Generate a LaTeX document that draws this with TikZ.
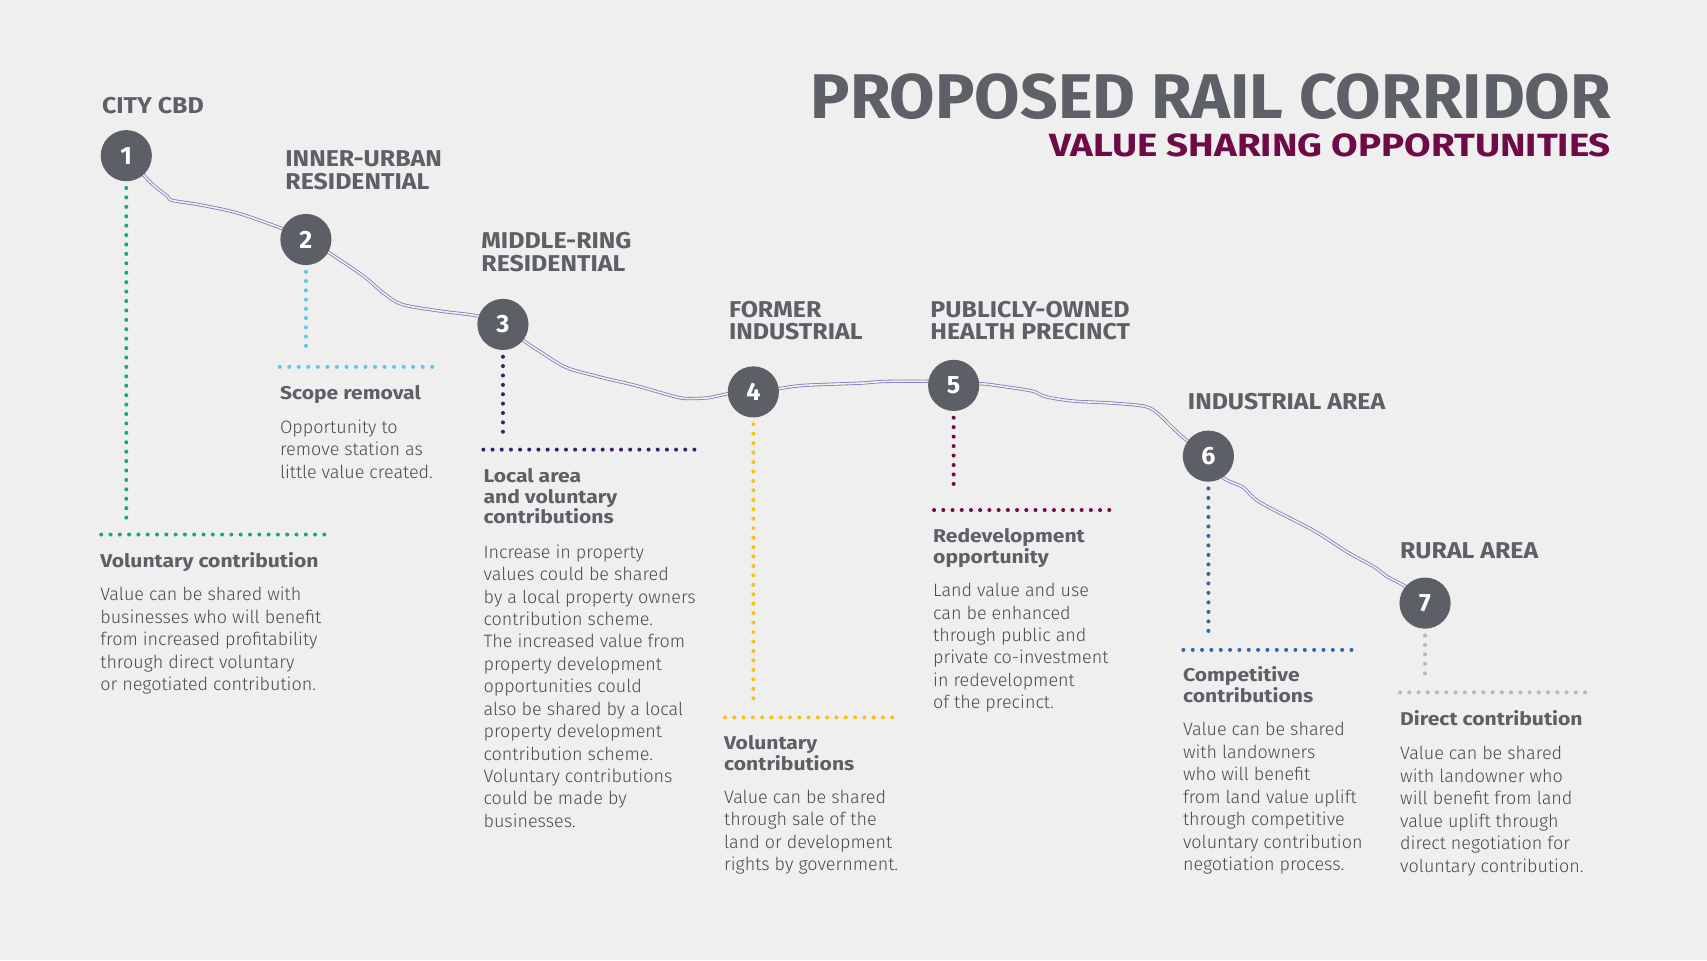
\documentclass[tikz,border=0pt]{standalone}
\usepackage{fontspec}
\setmainfont{Fira Sans}
\newfontfamily\lightf{Fira Sans Light}
\newfontfamily\stlf{Fira Sans}[FakeStretch=1.09]
\newfontfamily\headf{Fira Sans}[FakeStretch=1.14]
\newfontfamily\titlef{Fira Sans}[FakeStretch=1.043]
\newfontfamily\subtf{Fira Sans}[FakeStretch=1.2]
\usetikzlibrary{calc}
\definecolor{bgc}{HTML}{EFEFEF}
\definecolor{txtgray}{HTML}{5D6067}
\definecolor{circgray}{HTML}{5C5F65}
\definecolor{titlemag}{HTML}{6E0A46}
\definecolor{trackc}{HTML}{8A76BC}
\definecolor{cgreen}{HTML}{14A97F}
\definecolor{cltblue}{HTML}{5CC8EE}
\definecolor{cpurple}{HTML}{3D1D6E}
\definecolor{cyellow}{HTML}{F6C315}
\definecolor{cmaroon}{HTML}{76094A}
\definecolor{cblue}{HTML}{2F68A4}
\definecolor{cltgray}{HTML}{B9B9B9}
\tikzset{
  track/.style={draw=trackc, line width=0.75pt, double=bgc, double distance=1.5pt},
  stn/.style={circle, fill=circgray, minimum size=47pt, inner sep=0pt, text=white,
    font=\bfseries\fontsize{23}{23}\selectfont},
  stlbl/.style={anchor=base west, inner sep=0pt, align=left, text=txtgray,
    font=\stlf\bfseries\fontsize{21}{20.7}\selectfont},
  head/.style={anchor=base west, inner sep=0pt, align=left, text=txtgray,
    font=\headf\bfseries\fontsize{17}{19}\selectfont},
  body/.style={anchor=base west, inner sep=0pt, align=left, text=txtgray!78!black,
    font=\lightf\fontsize{16.5}{20.6}\selectfont},
  dots/.style={line width=3.7pt, line cap=round, dash pattern=on 0pt off #1pt},
  dots/.default=8.6
}
\begin{document}
\begin{tikzpicture}[x=1pt,y=-1pt]
\fill[bgc] (0,0) rectangle (1568,882);
\useasboundingbox (0,0) rectangle (1568,882);

% title
\node[anchor=base east, inner sep=0pt, text depth=0pt, text=txtgray, font=\titlef\bfseries\fontsize{58}{58}\selectfont] (title) at (1480,108.7) {PROPOSED RAIL CORRIDOR};
\node[anchor=base east, inner sep=0pt, text=titlemag, font=\subtf\bfseries\fontsize{29.5}{30}\selectfont] (subtitle) at (1480,143.4) {VALUE SHARING OPPORTUNITIES};

% station positions
\coordinate (s1) at (116,143);
\coordinate (s2) at (281,220);
\coordinate (s3) at (462,298);
\coordinate (s4) at (692,360);
\coordinate (s5) at (876,354);
\coordinate (s6) at (1110,419);
\coordinate (s7) at (1309,554);

% track
\draw[track] plot[smooth, tension=0.5] coordinates {(s1) (131.5,160.4) (142,171) (154,180.3) (158,184) (182.6,188) (218,195.6) (260,210.3) (s2)};
\draw[track] plot[smooth, tension=0.5] coordinates {(s2) (302.5,232.3) (334,253.7) (352,269) (369.5,279.7) (404.8,285.8) (440,290.4) (s3)};
\draw[track] plot[smooth, tension=0.5] coordinates {(s3) (479.6,312) (495.5,322.6) (520,337.5) (551.8,346.5) (583.5,354) (615,363) (629,366) (650.4,365.4) (669.7,361.5) (s4)};
\draw[track] plot[smooth, tension=0.5] coordinates {(s4) (715.5,357) (738.4,354) (791,351.9) (812.3,350.4) (854.6,350.4) (s5)};
\draw[track] plot[smooth, tension=0.5] coordinates {(s5) (900.4,352.5) (917.4,354.4) (948.2,359.2) (960.6,364.4) (985,368.3) (1025,370.5) (1052.8,373.5) (1065,381) (1077.4,393.2) (1091,405.3) (s6)};
\draw[track] plot[smooth, tension=0.5] coordinates {(s6) (1123.5,438.7) (1142,447.8) (1157.4,461.5) (1206.6,487.3) (1237.4,507) (1262,520.6) (1274.3,529.7) (1291.2,538.8) (s7)};

% stations
\node[stn] (c1) at (s1) {1};
\node[stn] (c2) at (s2) {2};
\node[stn] (c3) at (s3) {3};
\node[stn] (c4) at (s4) {4};
\node[stn] (c5) at (s5) {5};
\node[stn] (c6) at (s6) {6};
\node[stn] (c7) at (s7) {7};

% station labels (anchor = baseline of last line)
\node[stlbl] (l1) at (93.5,104) {CITY CBD};
\node[stlbl] (l2) at (262,174) {INNER-URBAN\\RESIDENTIAL};
\node[stlbl] (l3) at (442,249) {MIDDLE-RING\\RESIDENTIAL};
\node[stlbl] (l4) at (669.5,312) {FORMER\\INDUSTRIAL};
\node[stlbl] (l5) at (854.5,312) {PUBLICLY-OWNED\\HEALTH PRECINCT};
\node[stlbl] (l6) at (1091,376.6) {INDUSTRIAL AREA};
\node[stlbl] (l7) at (1286,512.8) {RURAL AREA};

% dotted connectors
\coordinate (v1) at (116,484); \coordinate (h1a) at (93,491); \coordinate (h1b) at (298,491);
\coordinate (v2) at (281,326); \coordinate (h2a) at (257,337); \coordinate (h2b) at (397,337);
\coordinate (v3) at (462,405); \coordinate (h3a) at (444,413); \coordinate (h3b) at (638,413);
\coordinate (v4) at (692,650); \coordinate (h4a) at (666,659); \coordinate (h4b) at (828,659);
\coordinate (v5) at (876,453); \coordinate (h5a) at (858,468.5); \coordinate (h5b) at (1019,468.5);
\coordinate (v6) at (1110,588); \coordinate (h6a) at (1087,597); \coordinate (h6b) at (1250,597);
\coordinate (v7) at (1309,627); \coordinate (h7a) at (1286,636); \coordinate (h7b) at (1456,636);

\draw[dots=8.65, cgreen] ($(c1.south)+(0,6)$) -- (v1);
\draw[dots=8.54, cgreen] (h1a) -- (h1b);
\draw[dots=8.5, cltblue] ($(c2.south)+(0,6)$) -- (v2);
\draw[dots=8.75, cltblue] (h2a) -- (h2b);
\draw[dots=8.61, cpurple] ($(c3.south)+(0,6)$) -- (v3);
\draw[dots=8.43, cpurple] (h3a) -- (h3b);
\draw[dots=8.68, cyellow] ($(c4.south)+(0,6)$) -- (v4);
\draw[dots=8.53, cyellow] (h4a) -- (h4b);
\draw[dots=8.69, cmaroon] ($(c5.south)+(0,6)$) -- (v5);
\draw[dots=8.47, cmaroon] (h5a) -- (h5b);
\draw[dots=8.72, cblue] ($(c6.south)+(0,6)$) -- (v6);
\draw[dots=8.58, cblue] (h6a) -- (h6b);
\draw[dots=8.7, cltgray] ($(c7.south)+(0,6)$) -- (v7);
\draw[dots=8.5, cltgray] (h7a) -- (h7b);

% text blocks (anchor = baseline of last line)
\node[head] (t1h) at (92,521) {Voluntary contribution};
\node[body] (t1b) at (92,634.4) {Value can be shared with\\businesses who will benefit\\from increased profitability\\through direct voluntary\\or negotiated contribution.};

\node[head] (t2h) at (257,367.4) {Scope removal};
\node[body] (t2b) at (257,439.2) {Opportunity to\\remove station as\\little value created.};

\node[head] (t3h) at (444,481.3) {Local area\\and voluntary\\contributions};
\node[body] (t3b) at (444,760) {Increase in property\\values could be shared\\by a local property owners\\contribution scheme.\\The increased value from\\property development\\opportunities could\\also be shared by a local\\property development\\contribution scheme.\\Voluntary contributions\\could be made by\\businesses.};

\node[head] (t4h) at (665,707.3) {Voluntary\\contributions};
\node[body] (t4b) at (665,799.8) {Value can be shared\\through sale of the\\land or development\\rights by government.};

\node[head] (t5h) at (857,517.5) {Redevelopment\\opportunity};
\node[body] (t5b) at (857,651) {Land value and use\\can be enhanced\\through public and\\private co-investment\\in redevelopment\\of the precinct.};

\node[head] (t6h) at (1086.5,645) {Competitive\\contributions};
\node[body] (t6b) at (1086.5,799.6) {Value can be shared\\with landowners\\who will benefit\\from land value uplift\\through competitive\\voluntary contribution\\negotiation process.};

\node[head] (t7h) at (1286,666) {Direct contribution};
\node[body] (t7b) at (1286,801) {Value can be shared\\with landowner who\\will benefit from land\\value uplift through\\direct negotiation for\\voluntary contribution.};
\end{tikzpicture}
\end{document}
